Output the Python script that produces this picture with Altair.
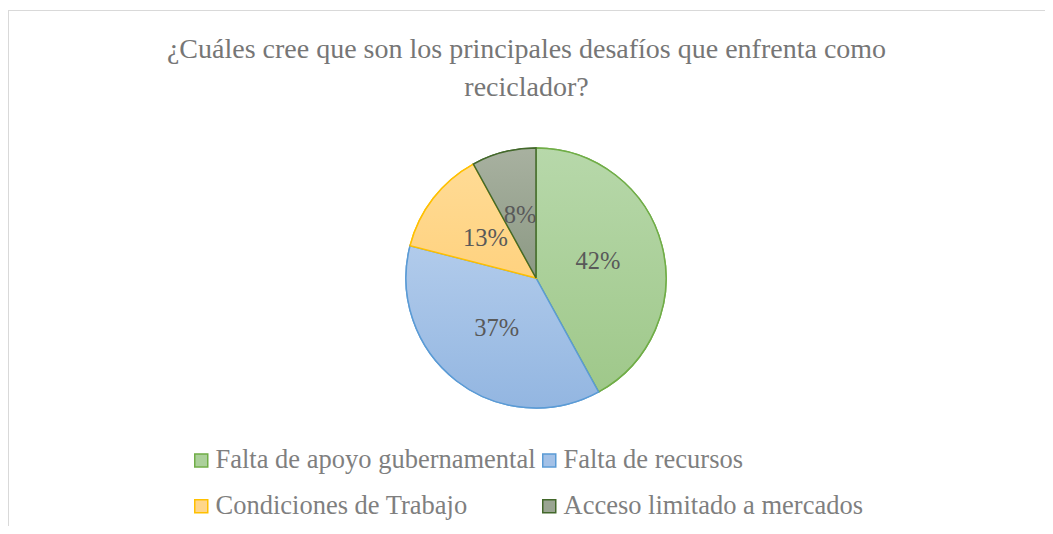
import altair as alt
import pandas as pd

CATEGORIES = ["Falta de apoyo gubernamental", "Falta de recursos",
              "Condiciones de Trabajo", "Acceso limitado a mercados"]
PERCENTS = [42, 37, 13, 8]
LABELS = ["42%", "37%", "13%", "8%"]
FILL_FLAT = ["#ABD09A", "#A3C1E7", "#FFD68A", "#9AA592"]
FILL_TOP = ["#B7D8AA", "#B1CBEB", "#FFDB95", "#A8B1A0"]
FILL_BOTTOM = ["#9FC88A", "#93B6E1", "#FFD27F", "#8C9984"]
STROKES = ["#70AD47", "#5B9BD5", "#FFC000", "#43682B"]
TITLE_LINES = ["¿Cuáles cree que son los principales desafíos que enfrenta como",
               "reciclador?"]

W, H = 1037, 518
CX, CY, R = 528, 270, 130
SERIF = "'Liberation Serif', 'Times New Roman', Times, serif"

df = pd.DataFrame({"categoria": CATEGORIES, "valor": PERCENTS,
                   "etiqueta": LABELS, "orden": list(range(len(CATEGORIES)))})


def grad(top, bottom):
    return {"gradient": "linear", "x1": 0, "y1": 0, "x2": 0, "y2": 1,
            "stops": [{"offset": 0, "color": top}, {"offset": 1, "color": bottom}]}


legend = alt.Legend(orient="none", legendX=180, legendY=439, columns=2,
                    direction="horizontal",
                    title=None, symbolType="square", symbolSize=169,
                    symbolStrokeWidth=1.5, labelFont=SERIF, labelFontSize=26.5,
                    labelColor="#7F7F7F", labelOffset=1, columnPadding=0,
                    rowPadding=19, labelLimit=0)

base = alt.Chart(df).encode(
    theta=alt.Theta("valor:Q", stack=True),
    order=alt.Order("orden:Q"),
    x=alt.value(CX), y=alt.value(CY),
)

flat = base.mark_arc(outerRadius=R, strokeWidth=1.5).encode(
    fill=alt.Fill("categoria:N", sort=CATEGORIES,
                  scale=alt.Scale(domain=CATEGORIES, range=FILL_FLAT), legend=legend),
    stroke=alt.Stroke("categoria:N", sort=CATEGORIES,
                      scale=alt.Scale(domain=CATEGORIES, range=STROKES), legend=legend),
)

n = len(CATEGORIES)
fill_cond = [{"test": f"datum.categoria === '{CATEGORIES[i]}'",
              "value": grad(FILL_TOP[i], FILL_BOTTOM[i])} for i in range(n - 1)]
stroke_cond = [{"test": f"datum.categoria === '{CATEGORIES[i]}'",
                "value": STROKES[i]} for i in range(n - 1)]

shaded = base.mark_arc(outerRadius=R, strokeWidth=1.5).encode(
    fill=alt.value(grad(FILL_TOP[-1], FILL_BOTTOM[-1]), condition=fill_cond),
    stroke=alt.value(STROKES[-1], condition=stroke_cond),
)

labels = base.mark_text(radius=64, font=SERIF, fontSize=24.5, color="#595959").encode(
    text=alt.Text("etiqueta:N")
)

title_df = pd.DataFrame({"t": TITLE_LINES, "i": list(range(len(TITLE_LINES)))})
title = alt.Chart(title_df).mark_text(
    font=SERIF, fontSize=28, color="#767676", baseline="alphabetic", align="center"
).encode(
    text=alt.Text("t:N"),
    x=alt.value(W / 2),
    y=alt.Y("i:Q", scale=alt.Scale(domain=[0, 1], range=[50, 88]), axis=None),
)

one = pd.DataFrame({"a": [0]})
border_top = alt.Chart(one).mark_rule(color="#D9D9D9", strokeWidth=1).encode(
    x=alt.value(0), x2=alt.value(W), y=alt.value(2.5))
border_left = alt.Chart(one).mark_rule(color="#D9D9D9", strokeWidth=1).encode(
    x=alt.value(0.5), y=alt.value(2), y2=alt.value(H))

chart = alt.layer(border_top, border_left, flat, shaded, labels, title).properties(
    width=W, height=H, padding=0,
    autosize=alt.AutoSizeParams(type="none"),
).configure_view(stroke=None)

chart.save("out.html", embed_options={"renderer": "svg", "actions": False})
